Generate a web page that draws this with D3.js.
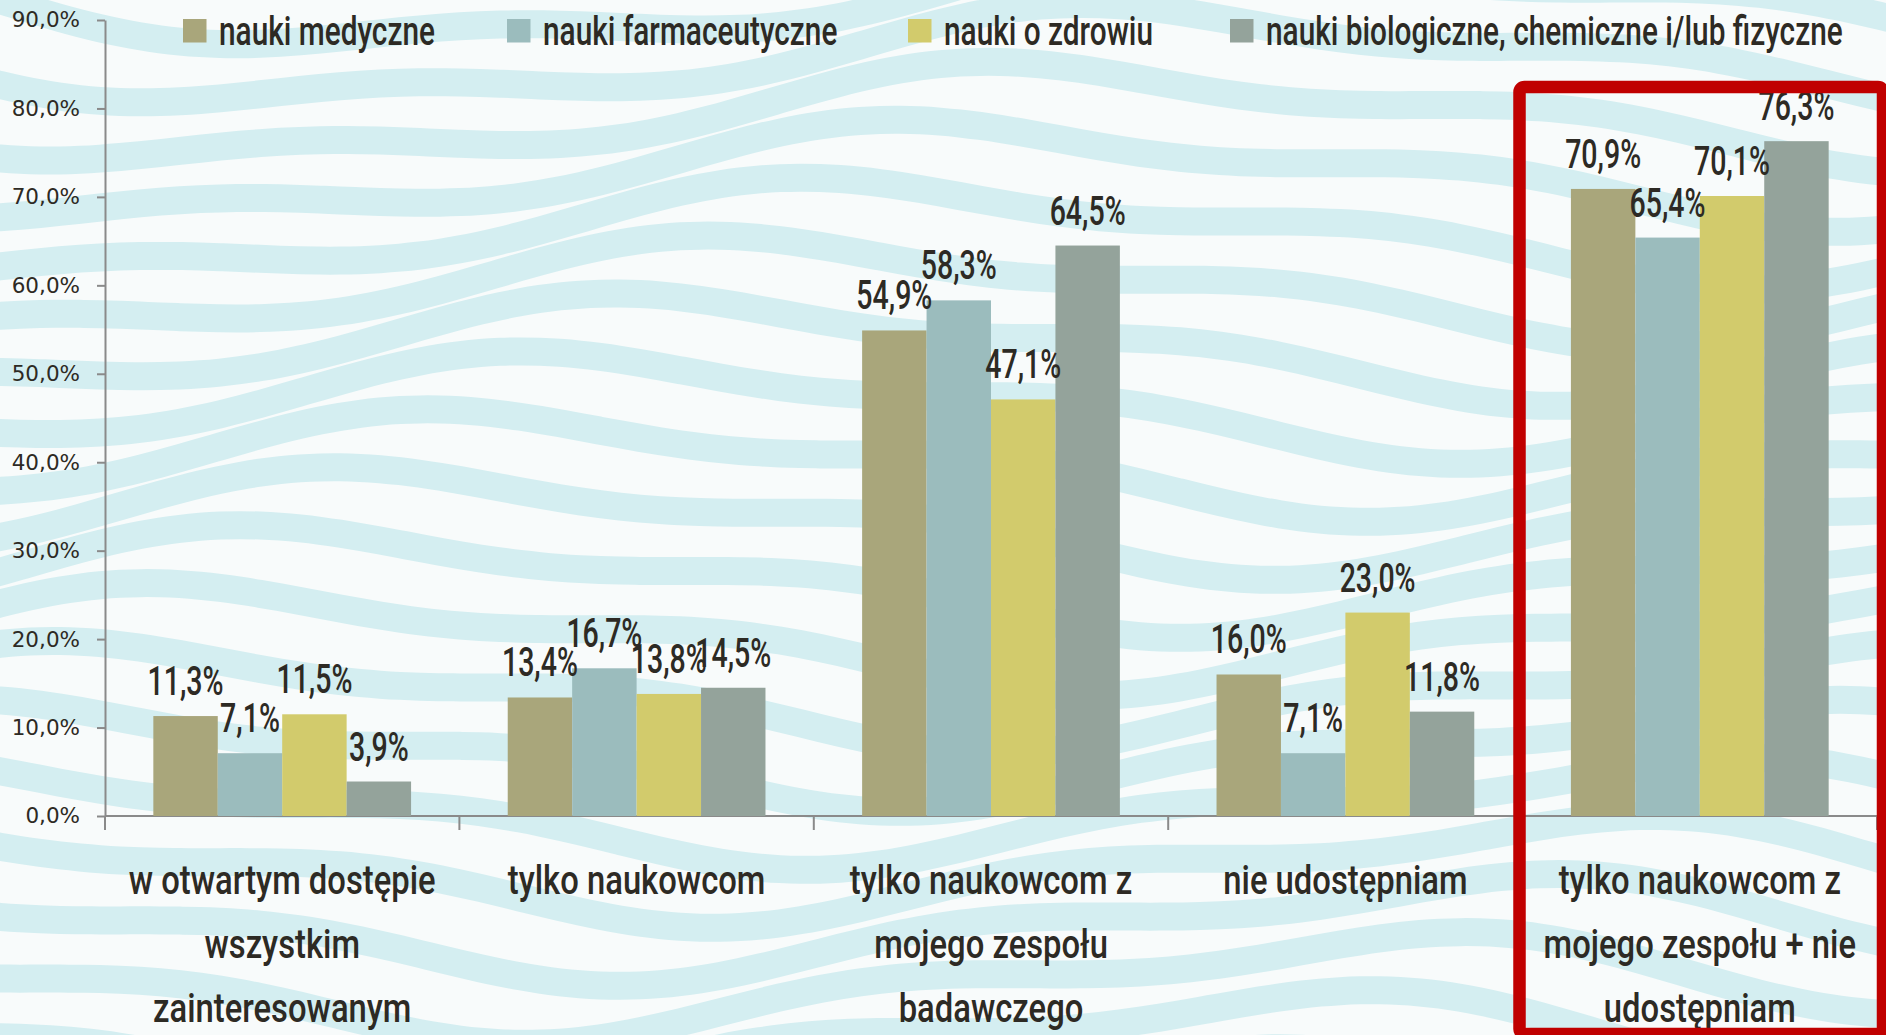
<!DOCTYPE html>
<html>
<head>
<meta charset="utf-8">
<script src="https://cdn.jsdelivr.net/npm/d3@7"></script>
<style>
  html, body { margin: 0; padding: 0; background: #f8fbfb; }
  svg { display: block; }
</style>
</head>
<body>
<svg id="chart" width="1886" height="1035"></svg>
<script>
// data
var categories = ["w otwartym dostępie wszystkim zainteresowanym", "tylko naukowcom",
  "tylko naukowcom z mojego zespołu badawczego", "nie udostępniam",
  "tylko naukowcom z mojego zespołu + nie udostępniam"];
var categoryLines = [
  ["w otwartym dostępie", "wszystkim", "zainteresowanym"],
  ["tylko naukowcom"],
  ["tylko naukowcom z", "mojego zespołu", "badawczego"],
  ["nie udostępniam"],
  ["tylko naukowcom z", "mojego zespołu + nie", "udostępniam"]
];
var series = ["nauki medyczne", "nauki farmaceutyczne", "nauki o zdrowiu",
  "nauki biologiczne, chemiczne i/lub fizyczne"];
var medyczne       = [11.3, 13.4, 54.9, 16.0, 70.9];
var farmaceutyczne = [7.1, 16.7, 58.3, 7.1, 65.4];
var zdrowie        = [11.5, 13.8, 47.1, 23.0, 70.1];
var biologiczne    = [3.9, 14.5, 64.5, 11.8, 76.3];
var yTicks = [0, 10, 20, 30, 40, 50, 60, 70, 80, 90];
var colors = ["#a9a67b", "#9bbcbd", "#d2cb6c", "#94a39b"];

var values = [medyczne, farmaceutyczne, zdrowie, biologiczne];
var rows = [];
categories.forEach(function(c, i) {
  series.forEach(function(s, j) {
    rows.push({ cat: c, ser: s, value: values[j][i], color: colors[j] });
  });
});

var svg = d3.select("#chart"),
    width = +svg.attr("width"),
    height = +svg.attr("height");

var textFont = "Roboto, 'Liberation Sans Narrow', sans-serif";
var textColor = "#2d2a24";

// background waves
var bg = svg.append("g");
bg.append("rect").attr("width", width).attr("height", height).attr("fill", "#f8fbfb");
var wave = d3.line().curve(d3.curveBasis);
d3.range(-3, 21).forEach(function(k) {
  var pts = d3.range(-60, width + 80, 20).map(function(x) {
    var y = k * 58 + 42 * Math.sin(2 * Math.PI * x / 1700 + k * 0.35)
          + 16 * Math.sin(2 * Math.PI * x / 650 + k * 0.9);
    return [x, y];
  });
  bg.append("path")
    .attr("d", wave(pts))
    .attr("fill", "none")
    .attr("stroke", "#d4eef1")
    .attr("stroke-width", 28);
});

// scales
var y = d3.scaleLinear().domain([0, 90]).range([816, 20]);
var x0 = d3.scaleBand().domain(categories).range([105, 1877]);
var x1 = d3.scaleBand().domain(series).range([0, x0.bandwidth()]).paddingOuter(0.75);

// y axis
var yAxis = svg.append("g")
  .attr("transform", "translate(105,0)")
  .call(d3.axisLeft(y).tickValues(yTicks).tickSize(8).tickSizeOuter(0).tickPadding(17)
    .tickFormat(function(d) { return d.toFixed(1).replace(".", ",") + "%"; }));
yAxis.selectAll("path, line").attr("stroke", "#8a8a8a").attr("stroke-width", 2);
yAxis.selectAll("text")
  .attr("font-family", "'DejaVu Sans', Verdana, sans-serif")
  .attr("font-size", 21.5)
  .attr("fill", "#2d2a24");

// x axis line + boundary ticks
var bounds = categories.map(function(c) { return x0(c); }).concat([x0.range()[1]]);
svg.append("line")
  .attr("x1", x0.range()[0]).attr("x2", x0.range()[1])
  .attr("y1", y(0)).attr("y2", y(0))
  .attr("stroke", "#8a8a8a").attr("stroke-width", 2);
svg.selectAll(".xtick").data(bounds).enter().append("line")
  .attr("x1", function(d) { return d; }).attr("x2", function(d) { return d; })
  .attr("y1", y(0)).attr("y2", y(0) + 14)
  .attr("stroke", "#8a8a8a").attr("stroke-width", 2);

// bars
svg.append("g").selectAll("rect")
  .data(rows).enter().append("rect")
    .attr("x", function(d) { return x0(d.cat) + x1(d.ser); })
    .attr("y", function(d) { return y(d.value); })
    .attr("width", x1.bandwidth())
    .attr("height", function(d) { return y(0) - y(d.value); })
    .attr("fill", function(d) { return d.color; });

// helper: condensed text via horizontal scaling
function squeeze(sample, size, target) {
  var t = svg.append("text").attr("font-family", textFont).attr("font-size", size)
    .attr("font-weight", 500).text(sample);
  var w = t.node().getComputedTextLength();
  t.remove();
  return target / w;
}
var sxVal = squeeze("70,9%", 40, 76);
var sxCat = squeeze("w otwartym dostępie", 40, 307);
var sxLeg = squeeze("nauki medyczne", 40, 216);

// value labels
svg.append("g").selectAll("text")
  .data(rows).enter().append("text")
    .attr("transform", function(d) {
      return "translate(" + (x0(d.cat) + x1(d.ser) + x1.bandwidth() / 2) + "," + (y(d.value) - 21) + ") scale(" + sxVal + ",1)";
    })
    .attr("text-anchor", "middle")
    .attr("font-family", textFont).attr("font-size", 40).attr("font-weight", 500)
    .attr("fill", textColor)
    .text(function(d) { return d.value.toFixed(1).replace(".", ",") + "%"; });

// category labels
categories.forEach(function(c, i) {
  categoryLines[i].forEach(function(line, k) {
    svg.append("text")
      .attr("transform", "translate(" + (x0(c) + x0.bandwidth() / 2) + "," + (894 + k * 64) + ") scale(" + sxCat + ",1)")
      .attr("text-anchor", "middle")
      .attr("font-family", textFont).attr("font-size", 40).attr("font-weight", 500)
      .attr("fill", textColor)
      .text(line);
  });
});

// legend
var legendX = [183, 507, 908, 1230];
var leg = svg.append("g");
series.forEach(function(s, j) {
  leg.append("rect").attr("x", legendX[j]).attr("y", 19).attr("width", 23.5).attr("height", 23.5)
    .attr("fill", colors[j]);
  leg.append("text")
    .attr("transform", "translate(" + (legendX[j] + 36) + ",45) scale(" + sxLeg + ",1)")
    .attr("font-family", textFont).attr("font-size", 40).attr("font-weight", 500)
    .attr("fill", textColor)
    .text(s);
});

// highlight box around last category
svg.append("rect")
  .attr("x", 1519.5).attr("y", 87)
  .attr("width", 363.5).attr("height", 947)
  .attr("rx", 5)
  .attr("fill", "none")
  .attr("stroke", "#c00000")
  .attr("stroke-width", 12.5);
</script>
</body>
</html>
